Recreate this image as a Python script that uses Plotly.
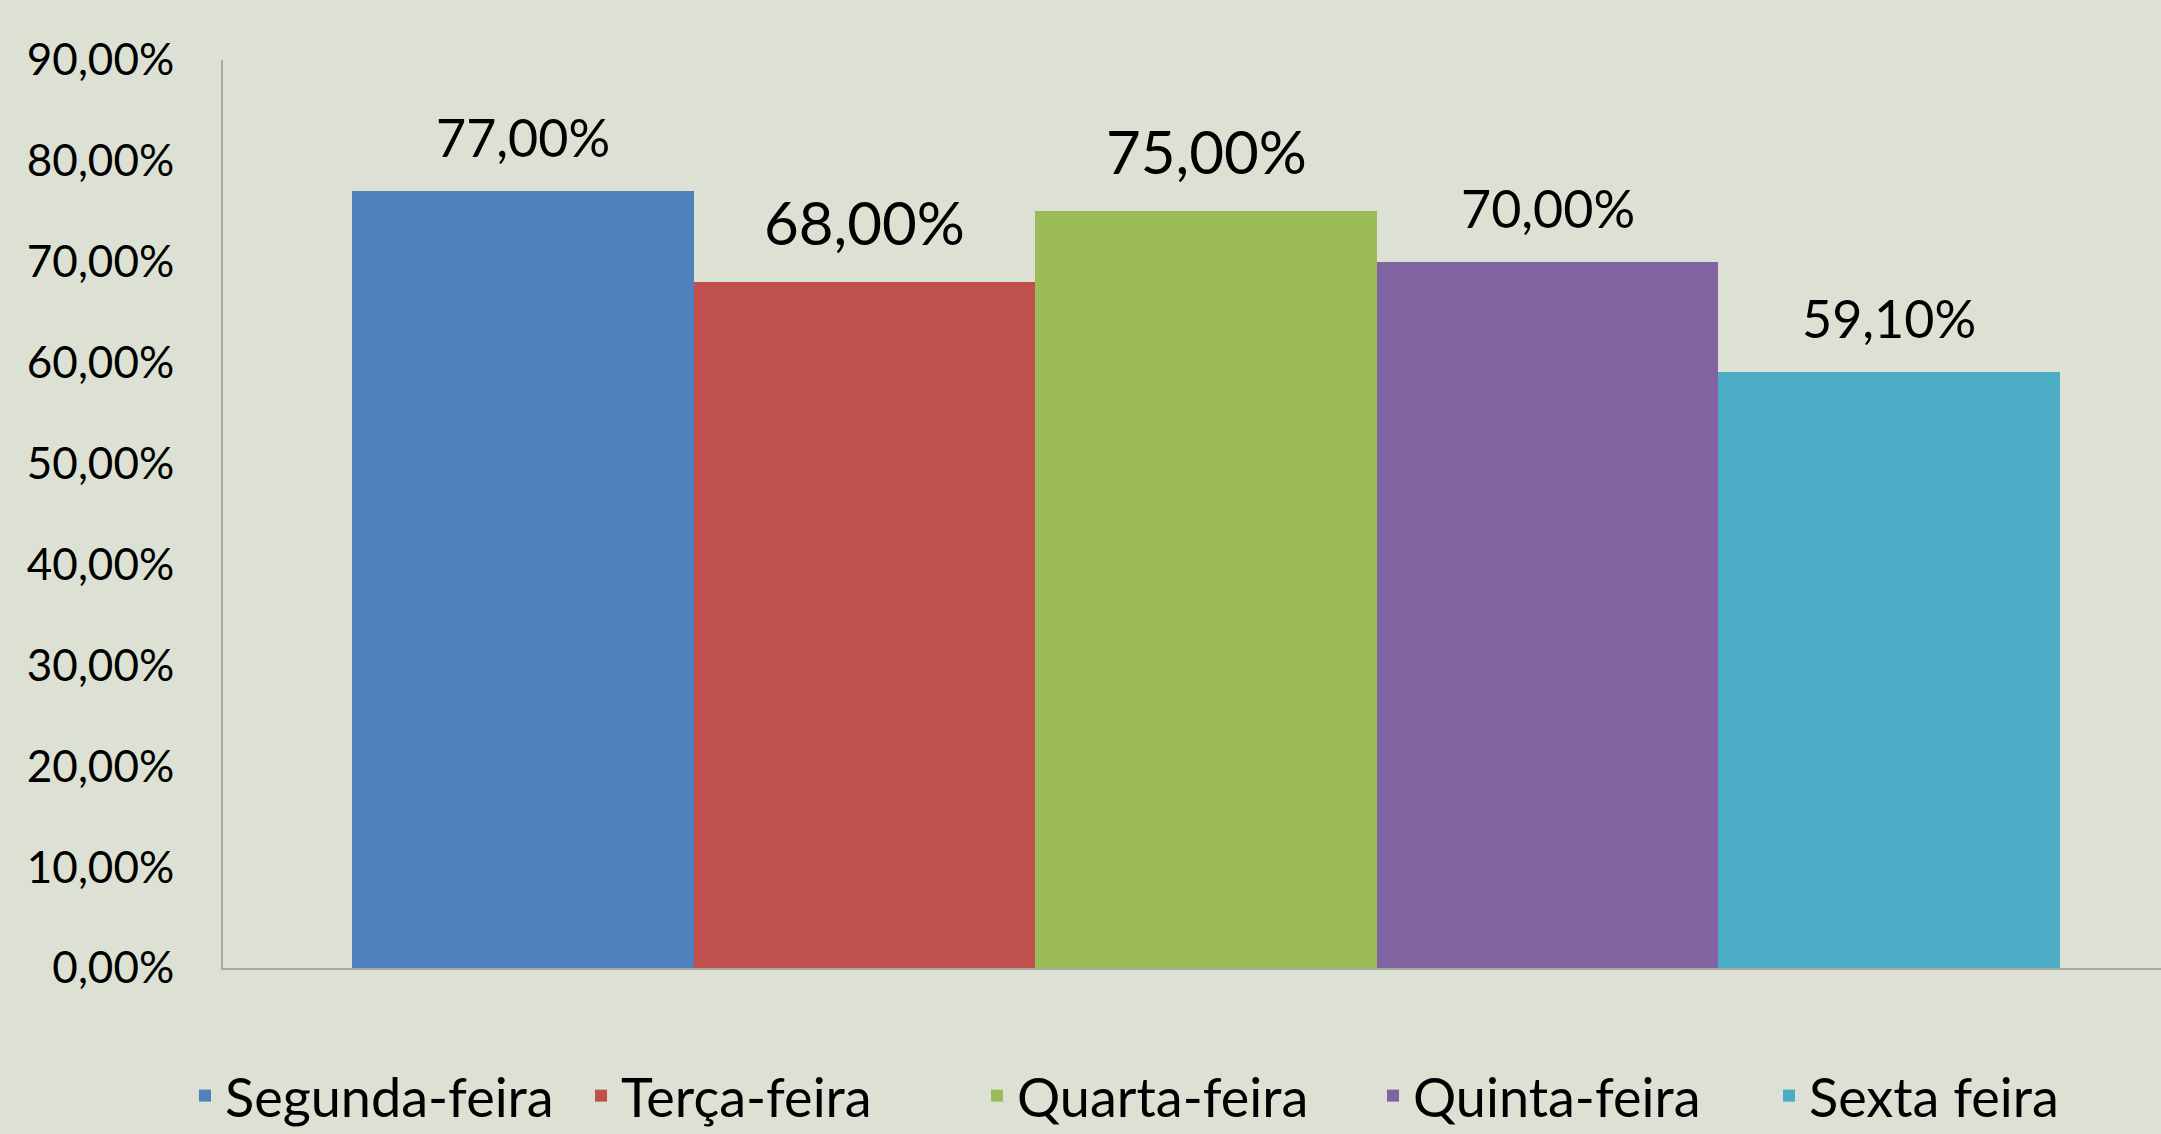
import plotly.graph_objects as go

series = ["Segunda-feira", "Terça-feira", "Quarta-feira", "Quinta-feira", "Sexta feira"]
values = [0.77, 0.68, 0.75, 0.70, 0.591]
y_ticks = [0, 0.1, 0.2, 0.3, 0.4, 0.5, 0.6, 0.7, 0.8, 0.9]

colors = ["#4F81BD", "#C0504D", "#9BBB59", "#8064A2", "#4BACC6"]
label_sizes = [52, 60, 60, 52, 52]

FONT = "Lato, Liberation Sans, sans-serif"
BG = "#DCE1D3"


def pct(v):
    return f"{v * 100:.2f}%".replace(".", ",")


fig = go.Figure()
for name, v, c in zip(series, values, colors):
    fig.add_trace(go.Bar(
        x=[name], y=[v], name=name,
        marker=dict(color=c, line=dict(width=0)),
        width=1.0,
    ))

for name, v, fs in zip(series, values, label_sizes):
    fig.add_annotation(
        x=name, y=v, xref="x", yref="y", text=pct(v), showarrow=False,
        yanchor="middle", yshift=0.75 * fs + 15,
        font=dict(size=fs, color="#000000", family=FONT),
    )

fig.update_layout(
    width=2161, height=1134,
    paper_bgcolor=BG, plot_bgcolor=BG,
    separators=",.",
    barmode="overlay", bargap=0,
    margin=dict(l=223, r=0, t=60, b=166, autoexpand=False),
    font=dict(family=FONT, color="#000000"),
    xaxis=dict(type="category", range=[-0.878, 4.796], showticklabels=False,
               showgrid=False, zeroline=False, showline=True,
               linecolor="#A6A8A3", linewidth=2, ticks=""),
    yaxis=dict(range=[0, 0.9], tickvals=y_ticks, tickformat=".2%",
               showgrid=False, zeroline=False, showline=True,
               linecolor="#A6A8A3", linewidth=2, ticks="",
               tickfont=dict(size=44, color="#000000", family=FONT),
               ticklabelstandoff=38),
    showlegend=True,
    legend=dict(orientation="h", x=-0.0196, xanchor="left", y=-0.141, yanchor="middle",
                font=dict(size=54, color="#000000", family=FONT),
                entrywidth=351, entrywidthmode="pixels",
                bgcolor="rgba(0,0,0,0)", traceorder="normal"),
)

fig.write_html("out.html", config={"displayModeBar": False},
               post_script="document.body.style.margin='0px';document.body.style.overflow='hidden';")
